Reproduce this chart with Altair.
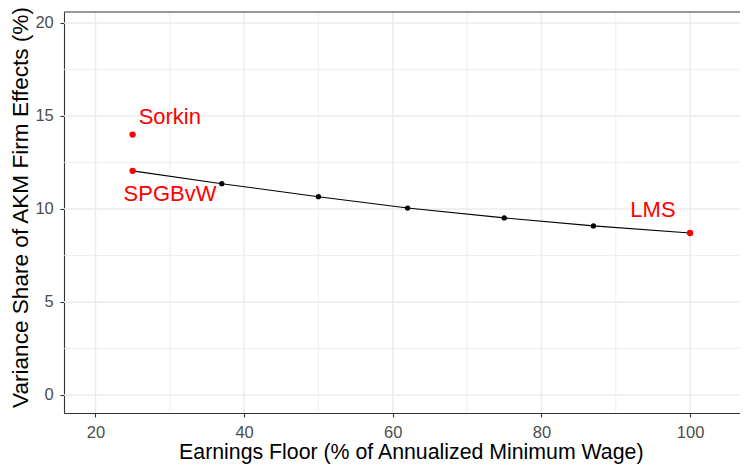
import altair as alt
import pandas as pd

# ---- data ----
floor_pct = [25, 37, 50, 62, 75, 87, 100]
var_share = [12.05, 11.36, 10.66, 10.05, 9.52, 9.09, 8.71]

study_labels = ["Sorkin", "SPGBvW", "LMS"]
study_floor = [25, 25, 100]
study_share = [14.0, 12.05, 8.71]

x_major = [20, 40, 60, 80, 100]
x_minor = [30, 50, 70, 90]
y_major = [0, 5, 10, 15, 20]
y_minor = [2.5, 7.5, 12.5, 17.5]

FONT = "Liberation Sans"
GRID = "#EBEBEB"
DARK = "#333333"

line_df = pd.DataFrame({"floor": floor_pct, "share": var_share})
study_df = pd.DataFrame({"label": study_labels, "floor": study_floor, "share": study_share})

x_scale = alt.Scale(domain=[15.77, 106.72], nice=False, zero=False)
y_scale = alt.Scale(domain=[-0.968, 20.59], nice=False, zero=False)

x_axis = alt.Axis(
    values=x_major, grid=False, domainColor=DARK, domainWidth=1.1,
    tickColor=DARK, tickSize=4, tickWidth=1.1,
    labelColor="#4D4D4D", labelFontSize=16.5, labelFont=FONT, labelPadding=7.5,
    labelFlush=False,
    title="Earnings Floor (% of Annualized Minimum Wage)",
    titleFont=FONT, titleFontSize=21.3, titleFontWeight="normal", titleColor="black",
    titleX=346.8, titleY=45, titleBaseline="alphabetic", titleAlign="center",
)
y_axis = alt.Axis(
    values=y_major, grid=False, domainColor=DARK, domainWidth=1.1,
    tickColor=DARK, tickSize=4, tickWidth=1.1,
    labelColor="#4D4D4D", labelFontSize=16.5, labelFont=FONT, labelPadding=6.7,
    labelFlush=False,
    title="Variance Share of AKM Firm Effects (%)",
    titleFont=FONT, titleFontSize=22.6, titleFontWeight="normal", titleColor="black",
    titleAngle=-90, titleX=-37, titleY=195, titleBaseline="alphabetic", titleAlign="center",
)

def vrules(vals, width):
    return alt.Chart(pd.DataFrame({"floor": vals})).mark_rule(color=GRID, strokeWidth=width).encode(
        x=alt.X("floor:Q", scale=x_scale, axis=x_axis)
    )

def hrules(vals, width):
    return alt.Chart(pd.DataFrame({"share": vals})).mark_rule(color=GRID, strokeWidth=width).encode(
        y=alt.Y("share:Q", scale=y_scale, axis=y_axis)
    )

grid = vrules(x_minor, 0.8) + hrules(y_minor, 0.8) + vrules(x_major, 1.5) + hrules(y_major, 1.5)

top_border = alt.Chart(pd.DataFrame({"a": [0]})).mark_rule(color=DARK, strokeWidth=1.1).encode(
    x=alt.value(0), x2=alt.value(676), y=alt.value(0)
)

base = alt.Chart(line_df).encode(
    x=alt.X("floor:Q", scale=x_scale, axis=x_axis),
    y=alt.Y("share:Q", scale=y_scale, axis=y_axis),
)
line = base.mark_line(color="black", strokeWidth=1.1)
pts = base.mark_circle(color="black", size=28, opacity=1)

sbase = alt.Chart(study_df).encode(
    x=alt.X("floor:Q", scale=x_scale, axis=x_axis),
    y=alt.Y("share:Q", scale=y_scale, axis=y_axis),
)
red_pts = sbase.mark_circle(color="#FF0000", size=40, opacity=1)

offsets = {"Sorkin": (37.2, -10.7), "SPGBvW": (37.4, 30.0), "LMS": (-37.1, -16.3)}
texts = []
for lab in study_labels:
    dx, dy = offsets[lab]
    texts.append(
        sbase.transform_filter(alt.datum.label == lab).mark_text(
            color="#FF0000", font=FONT, fontSize=22, align="center",
            baseline="alphabetic", dx=dx, dy=dy
        ).encode(text="label:N")
    )

chart = alt.layer(grid, top_border, line, pts, red_pts, *texts).properties(
    width=676, height=401,
    autosize=alt.AutoSizeParams(type="none"),
    padding={"left": 56, "top": 4, "right": 0, "bottom": 53},
).configure_view(stroke=None)

chart.save("out.html", embed_options={"renderer": "svg", "actions": False})
